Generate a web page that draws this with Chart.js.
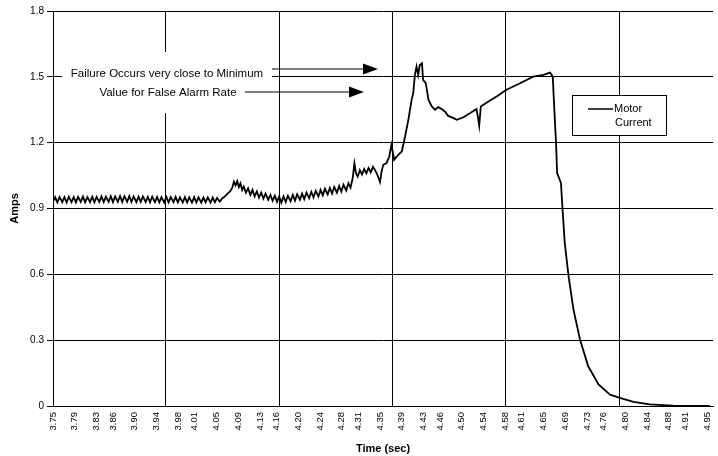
<!DOCTYPE html>
<html>
<head>
<meta charset="utf-8">
<script src="https://cdn.jsdelivr.net/npm/chart.js@4.4.0/dist/chart.umd.min.js"></script>
<style>
  html, body { margin: 0; padding: 0; background: #fff; }
  #wrap { width: 718px; height: 456px; }
</style>
</head>
<body>
<div id="wrap"><canvas id="motorChart" width="718" height="456"></canvas></div>
<script>
var seriesName = 'Motor Current';
var xTickLabels = ['3.75','3.79','3.83','3.86','3.90','3.94','3.98','4.01','4.05','4.09','4.13',
  '4.16','4.20','4.24','4.28','4.31','4.35','4.39','4.43','4.46','4.50','4.54','4.58','4.61',
  '4.65','4.69','4.73','4.76','4.80','4.84','4.88','4.91','4.95'];
var yTickValues = [0, 0.3, 0.6, 0.9, 1.2, 1.5, 1.8];
var gridTimes = [3.957, 4.165, 4.373, 4.581, 4.789];
var noteLines = ['Failure Occurs very close to Minimum', 'Value for False Alarm Rate'];

// time (sec), amps
var motorCurrent = [
  [3.750,0.930],[3.754,0.951],[3.758,0.928],[3.762,0.953],[3.767,0.929],[3.771,0.952],[3.775,0.927],[3.779,0.954],
  [3.784,0.929],[3.788,0.952],[3.792,0.928],[3.796,0.953],[3.801,0.930],[3.805,0.955],[3.809,0.928],[3.813,0.952],
  [3.818,0.929],[3.822,0.954],[3.826,0.928],[3.830,0.953],[3.835,0.930],[3.839,0.955],[3.843,0.929],[3.847,0.954],
  [3.852,0.930],[3.856,0.956],[3.860,0.929],[3.864,0.955],[3.869,0.931],[3.873,0.957],[3.877,0.930],[3.881,0.956],
  [3.886,0.931],[3.890,0.957],[3.894,0.930],[3.898,0.955],[3.903,0.929],[3.907,0.954],[3.911,0.930],[3.915,0.955],
  [3.920,0.929],[3.924,0.953],[3.928,0.928],[3.932,0.954],[3.937,0.929],[3.941,0.953],[3.945,0.928],[3.949,0.952],
  [3.954,0.927],[3.958,0.953],[3.962,0.928],[3.966,0.952],[3.971,0.929],[3.975,0.953],[3.979,0.928],[3.983,0.951],
  [3.988,0.927],[3.992,0.952],[3.996,0.928],[4.000,0.951],[4.005,0.927],[4.009,0.952],[4.013,0.928],[4.017,0.951],
  [4.022,0.927],[4.026,0.950],[4.030,0.928],[4.034,0.951],[4.039,0.927],[4.043,0.950],[4.047,0.929],[4.051,0.948],
  [4.056,0.932],[4.060,0.945],[4.064,0.952],[4.068,0.962],[4.071,0.970],[4.075,0.978],[4.079,0.995],[4.082,1.022],
  [4.085,1.005],[4.088,1.025],[4.091,0.998],[4.094,1.015],[4.097,0.985],[4.100,1.000],[4.104,0.972],[4.108,0.992],
  [4.112,0.962],[4.116,0.985],[4.120,0.955],[4.124,0.978],[4.128,0.950],[4.132,0.972],[4.136,0.945],[4.140,0.968],
  [4.145,0.940],[4.149,0.962],[4.153,0.935],[4.157,0.958],[4.161,0.930],[4.165,0.955],[4.169,0.926],[4.173,0.955],
  [4.177,0.930],[4.181,0.958],[4.186,0.933],[4.190,0.962],[4.194,0.936],[4.198,0.965],[4.203,0.940],[4.207,0.968],
  [4.211,0.943],[4.215,0.972],[4.220,0.947],[4.224,0.976],[4.228,0.951],[4.232,0.980],[4.237,0.955],[4.241,0.985],
  [4.245,0.960],[4.249,0.990],[4.254,0.964],[4.258,0.994],[4.262,0.968],[4.266,0.998],[4.271,0.972],[4.275,1.003],
  [4.279,0.977],[4.283,1.008],[4.288,0.982],[4.292,1.015],[4.296,0.995],[4.300,1.040],[4.303,1.105],[4.306,1.060],
  [4.309,1.045],[4.313,1.075],[4.317,1.055],[4.321,1.080],[4.325,1.060],[4.329,1.085],[4.333,1.065],[4.337,1.090],
  [4.341,1.075],[4.345,1.055],[4.350,1.020],[4.353,1.070],[4.356,1.099],[4.362,1.107],[4.367,1.137],[4.371,1.190],
  [4.376,1.122],[4.380,1.135],[4.384,1.145],[4.390,1.160],[4.396,1.228],[4.402,1.304],[4.408,1.395],[4.411,1.426],
  [4.414,1.509],[4.417,1.547],[4.420,1.509],[4.423,1.554],[4.427,1.562],[4.429,1.486],[4.434,1.471],[4.439,1.395],
  [4.445,1.365],[4.451,1.350],[4.457,1.362],[4.463,1.353],[4.469,1.342],[4.475,1.322],[4.482,1.315],[4.491,1.304],
  [4.503,1.316],[4.515,1.334],[4.527,1.353],[4.530,1.312],[4.532,1.277],[4.535,1.365],[4.546,1.383],[4.564,1.410],
  [4.582,1.441],[4.607,1.471],[4.631,1.501],[4.650,1.509],[4.662,1.519],[4.667,1.501],[4.669,1.395],[4.673,1.198],
  [4.675,1.061],[4.682,1.016],[4.685,0.894],[4.689,0.743],[4.696,0.591],[4.705,0.439],[4.717,0.303],[4.732,0.181],
  [4.751,0.098],[4.772,0.052],[4.790,0.037],[4.815,0.019],[4.845,0.007],[4.888,0.002],[4.955,0.000]
];

var FONT = '"Liberation Sans", Arial, sans-serif';

// white note box with arrows, and the boxed legend inside the plot
var notesPlugin = {
  id: 'notes',
  afterDatasetsDraw: function (chart) {
    var ctx = chart.ctx;
    ctx.save();
    ctx.fillStyle = '#fff';
    ctx.fillRect(62, 52, 210, 61);

    ctx.fillStyle = '#000';
    ctx.font = '11.5px ' + FONT;
    ctx.textAlign = 'center';
    ctx.textBaseline = 'middle';
    ctx.fillText(noteLines[0], 167, 74);
    ctx.fillText(noteLines[1], 168, 93);

    drawArrow(ctx, 272, 378, 69);
    drawArrow(ctx, 245, 364, 92);

    // legend
    ctx.fillStyle = '#fff';
    ctx.fillRect(572, 95, 94, 40);
    ctx.strokeStyle = '#000';
    ctx.lineWidth = 1;
    ctx.strokeRect(572.5, 95.5, 94, 40);
    ctx.beginPath();
    ctx.lineWidth = 1.5;
    ctx.moveTo(588, 109);
    ctx.lineTo(613, 109);
    ctx.stroke();
    var parts = chart.data.datasets[0].label.split(' ');
    ctx.font = '11px ' + FONT;
    ctx.fillStyle = '#000';
    ctx.textAlign = 'left';
    ctx.fillText(parts[0], 614, 109);
    ctx.fillText(parts[1], 615, 123);
    ctx.restore();
  }
};

function drawArrow(ctx, x0, x1, y) {
  ctx.beginPath();
  ctx.strokeStyle = '#000';
  ctx.lineWidth = 1.2;
  ctx.moveTo(x0, y);
  ctx.lineTo(x1 - 14, y);
  ctx.stroke();
  ctx.beginPath();
  ctx.fillStyle = '#000';
  ctx.moveTo(x1, y);
  ctx.lineTo(x1 - 15, y - 5.5);
  ctx.lineTo(x1 - 15, y + 5.5);
  ctx.closePath();
  ctx.fill();
}

var ctx = document.getElementById('motorChart');
var motorChart = new Chart(ctx, {
  type: 'line',
  data: {
    datasets: [{
      label: seriesName,
      data: motorCurrent.map(function (p) { return { x: p[0], y: p[1] }; }),
      borderColor: '#000',
      borderWidth: 1.8,
      pointRadius: 0,
      tension: 0,
      fill: false
    }]
  },
  options: {
    responsive: false,
    animation: false,
    devicePixelRatio: 1,
    layout: { padding: { left: 4, right: 5, top: 11, bottom: 0 } },
    plugins: {
      legend: { display: false },
      tooltip: { enabled: false }
    },
    scales: {
      x: {
        type: 'linear',
        position: 'bottom',
        weight: 0,
        min: 3.75,
        max: 4.961,
        afterBuildTicks: function (axis) {
          axis.ticks = xTickLabels.map(function (l) { return { value: parseFloat(l) }; });
        },
        afterFit: function (axis) {
          axis.height = 50;
          axis.paddingLeft = 0;
          axis.paddingRight = 0;
        },
        ticks: {
          autoSkip: false,
          minRotation: 90,
          maxRotation: 90,
          padding: 6,
          color: '#000',
          font: { family: FONT, size: 9.5 },
          callback: function (v, i) { return xTickLabels[i]; }
        },
        grid: { display: false, drawTicks: false },
        border: { display: true, color: '#000', width: 1 },
        title: {
          display: true,
          text: 'Time (sec)',
          color: '#000',
          font: { family: FONT, size: 11, weight: 'bold' },
          padding: { top: 0, bottom: 0 }
        }
      },
      xg: {
        type: 'linear',
        position: 'bottom',
        weight: 10,
        min: 3.75,
        max: 4.961,
        afterBuildTicks: function (axis) {
          axis.ticks = gridTimes.map(function (v) { return { value: v }; });
        },
        afterFit: function (axis) {
          axis.height = 0;
          axis.paddingLeft = 0;
          axis.paddingRight = 0;
        },
        ticks: { display: false },
        grid: { color: '#000', lineWidth: 1, drawTicks: false },
        border: { display: false }
      },
      y: {
        min: 0,
        max: 1.8,
        afterBuildTicks: function (axis) {
          axis.ticks = yTickValues.map(function (v) { return { value: v }; });
        },
        afterFit: function (axis) { axis.width = 49; },
        ticks: {
          padding: 3,
          color: '#000',
          font: { family: FONT, size: 10 },
          callback: function (v) { return v === 0 ? '0' : v.toFixed(1); }
        },
        grid: { color: '#000', lineWidth: 1, tickLength: 6 },
        border: { color: '#000', width: 1 },
        title: {
          display: true,
          text: 'Amps',
          color: '#000',
          font: { family: FONT, size: 11, weight: 'bold' },
          padding: { top: 4, bottom: 0 }
        }
      }
    }
  },
  plugins: [notesPlugin]
});
</script>
</body>
</html>
